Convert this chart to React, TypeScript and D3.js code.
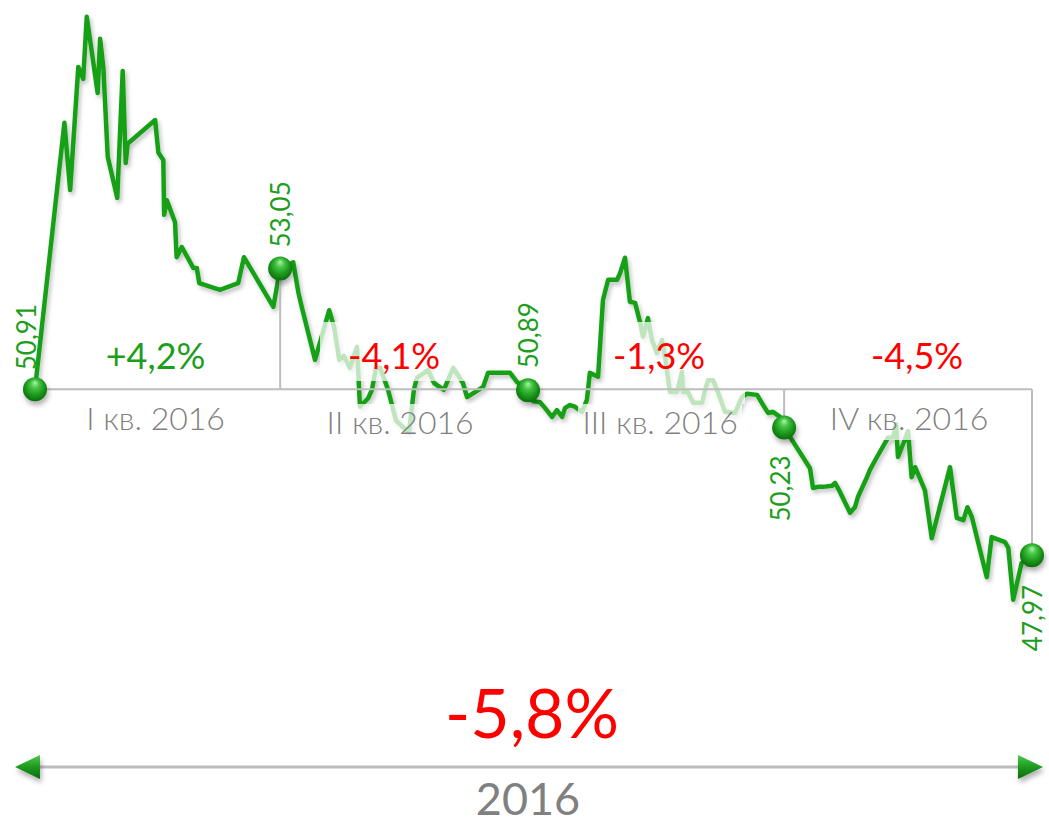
import React from "react";
import * as d3 from "d3";

// ---- data ----
const days = [
  0, 10.8, 12.9, 15.9, 17.7, 19.0, 23.0, 23.9, 25.1, 26.7, 30.2, 32.2, 33.3, 34.0, 44.1, 45.3, 47.1, 47.4, 48.4, 51.4,
  52.0, 53.9, 58.1, 59.4, 60.3, 67.9, 74.6, 76.7, 87.5, 90,
  94.8, 96.7, 97.9, 102.8, 108.0, 109.8, 111.7, 113.4, 115.6, 118.2, 119.3, 122.3, 123.7, 125.2, 126.7, 129.6, 132.5,
  135.1, 137.3, 139.1, 140.2, 144.3, 146.5, 150.1, 153.5, 157.1, 158.6, 164.5, 166.3, 174.4, 176.9, 181,
  182.8, 185.4, 187.2, 189.8, 191.6, 193.5, 194.6, 196.4, 198.2, 200.8, 202.6, 203.7, 206.7, 208.5, 210.4, 213.7, 214.8,
  216.6, 218.4, 220.3, 222.1, 223.2, 225.0, 226.5, 228.3, 230.2, 231.3, 233.1, 235.7, 237.5, 237.9, 239.7, 241.6, 244.9,
  246.0, 247.1, 248.9, 250.7, 253.3, 257.0, 259.5, 261.4, 265.1, 267.3, 269.1, 270.9, 273.5, 275,
  284.5, 285.6, 287.4, 289.3, 292.6, 293.7, 295.5, 299.2, 301.0, 302.1, 305.4, 306.5, 309.1, 313.1, 315.0, 316.1, 316.8,
  318.7, 320.5, 321.8, 323.1, 326.7, 329.2, 335.9, 338.4, 340.8, 342.3, 343.9, 349.4, 351.2, 356.1, 357.3, 359.1, 362.2, 366,
];
const prices = [
  50.91, 55.63, 54.44, 56.62, 56.41, 57.51, 56.16, 57.12, 56.6, 55.03, 54.3, 56.55, 54.92, 55.26, 55.68, 55.1, 54.97, 54.0,
  54.26, 53.87, 53.25, 53.43, 53.06, 53.06, 52.79, 52.67, 52.79, 53.25, 52.37, 53.05,
  53.16, 52.62, 52.37, 51.43, 52.31, 52.01, 51.43, 51.5, 51.29, 51.66, 50.6, 50.75, 50.9, 51.3, 51.29, 50.9, 50.36, 50.24,
  50.15, 50.9, 51.11, 51.25, 51.02, 50.9, 51.29, 51.02, 50.77, 50.95, 51.2, 51.2, 51.04, 50.89,
  50.7, 50.68, 50.58, 50.42, 50.54, 50.42, 50.58, 50.63, 50.6, 50.51, 50.72, 51.2, 51.13, 52.49, 52.85, 52.85, 52.97,
  53.24, 52.46, 52.44, 52.1, 51.84, 52.17, 51.78, 51.55, 51.78, 51.48, 50.86, 50.86, 51.22, 50.86, 50.86, 50.67, 50.67,
  50.9, 51.07, 51.07, 50.86, 50.51, 50.49, 50.77, 50.83, 50.81, 50.63, 50.49, 50.51, 50.42, 50.23,
  49.51, 49.16, 49.18, 49.18, 49.2, 49.25, 49.09, 48.72, 48.82, 49.0, 49.35, 49.48, 49.71, 50.05, 50.06, 50.29, 49.71,
  49.94, 50.17, 49.35, 49.53, 49.12, 48.27, 49.53, 48.63, 48.59, 48.82, 48.65, 47.58, 48.29, 48.2, 48.1, 47.18, 47.83, 47.97,
];
const keyDays = [0, 90, 181, 275, 366];
const keyValues = [50.91, 53.05, 50.89, 50.23, 47.97];
const keyLabels = ["50,91", "53,05", "50,89", "50,23", "47,97"];
const quarterLabels = ["I кв. 2016", "II кв. 2016", "III кв. 2016", "IV кв. 2016"];
const quarterChanges = ["+4,2%", "-4,1%", "-1,3%", "-4,5%"];
const quarterUp = [true, false, false, false];
const yearChange = "-5,8%";
const yearLabel = "2016";

const W = 1049;
const H = 824;
const GREEN = "#19a019";
const TEXT_GREEN = "#1c9e1c";
const RED = "#ff0000";
const GRAY_TEXT = "#808080";
const GRAY_LINE = "#bdbdbd";
const FONT = "Lato, 'Open Sans', sans-serif";

export default function App() {
  const x = d3.scaleLinear().domain([0, 366]).range([35, 1032]);
  const y = d3.scaleLinear().domain([47, 58]).range([609.9, -10.9]);
  const pts = days.map((d, i) => [d, prices[i]] as [number, number]);
  const line = d3
    .line<[number, number]>()
    .x((p) => x(p[0]))
    .y((p) => y(p[1]));

  const baseY = y(keyValues[0]);
  const mids = quarterLabels.map((_, i) => x((keyDays[i] + keyDays[i + 1]) / 2));
  const pctDx = [-2, -10, 3, 9];
  const qDx = [-2, -4, 4, 1];
  const qY = [430, 434, 434, 430];
  // value label offsets (rotated)
  const valOff = [
    { dx: 1, dy: -19 },
    { dx: 10, dy: -21 },
    { dx: 10, dy: -22 },
    { dx: 6, dy: 94 },
    { dx: 10, dy: 96 },
  ];

  // translucent label boxes (label backgrounds)
  const boxes = [
    { x0: 320, x1: 470, y0: 322, y1: 381 },
    { x0: 322, x1: 475, y0: 404, y1: 442 },
    { x0: 606, x1: 745, y0: 322, y1: 404 },
    { x0: 578, x1: 742, y0: 404, y1: 440 },
    { x0: 825, x1: 992, y0: 398, y1: 440 },
  ];

  return (
    <svg
      width={W}
      height={H}
      style={{ position: "absolute", left: 0, top: 0, background: "#fff" }}
      fontFamily={FONT}
    >
      <defs>
        <filter id="shadow" x="-10%" y="-10%" width="120%" height="130%">
          <feDropShadow dx="2" dy="3" stdDeviation="2.2" floodColor="#000" floodOpacity="0.25" />
        </filter>
        <filter id="ballShadow" x="-50%" y="-50%" width="200%" height="200%">
          <feDropShadow dx="1.5" dy="4" stdDeviation="2.5" floodColor="#000" floodOpacity="0.3" />
        </filter>
        <radialGradient id="ball" cx="50%" cy="45%" r="60%" fx="50%" fy="22%">
          <stop offset="0%" stopColor="#a8f5a8" />
          <stop offset="30%" stopColor="#45c445" />
          <stop offset="70%" stopColor="#169016" />
          <stop offset="100%" stopColor="#0b640b" />
        </radialGradient>
        <linearGradient id="arrowL" x1="0" y1="0" x2="0" y2="1">
          <stop offset="0%" stopColor="#4cc94c" />
          <stop offset="50%" stopColor="#1e9a1e" />
          <stop offset="100%" stopColor="#0b6a0b" />
        </linearGradient>
      </defs>

      {/* data line */}
      <path d={line(pts) || ""} fill="none" stroke={GREEN} strokeWidth={4.5} strokeLinejoin="round" filter="url(#shadow)" />

      {/* translucent label boxes */}
      {boxes.map((b, i) => (
        <rect key={i} x={b.x0} y={b.y0} width={b.x1 - b.x0} height={b.y1 - b.y0} fill="#fff" opacity={0.72} />
      ))}

      {/* baseline and connectors */}
      <line x1={x(keyDays[0])} x2={x(keyDays[4])} y1={baseY} y2={baseY} stroke={GRAY_LINE} strokeWidth={2} />
      {keyDays.slice(1).map((d, i) => (
        <line
          key={i}
          x1={x(d)}
          x2={x(d)}
          y1={baseY}
          y2={y(keyValues[i + 1])}
          stroke={GRAY_LINE}
          strokeWidth={2}
        />
      ))}

      {/* balls */}
      {keyDays.map((d, i) => (
        <circle key={i} cx={x(d)} cy={y(keyValues[i])} r={12} fill="url(#ball)" filter="url(#ballShadow)" />
      ))}

      {/* value labels */}
      {keyDays.map((d, i) => {
        const cx = x(d) + valOff[i].dx;
        const cy = y(keyValues[i]) + valOff[i].dy;
        return (
          <text
            key={i}
            transform={`translate(${cx},${cy}) rotate(-90)`}
            fontSize={26}
            fill={TEXT_GREEN}
            textAnchor="start"
          >
            {keyLabels[i]}
          </text>
        );
      })}

      {/* quarter changes */}
      {quarterChanges.map((t, i) => (
        <text
          key={i}
          x={mids[i] + pctDx[i]}
          y={369}
          fontSize={36}
          textAnchor="middle"
          fill={quarterUp[i] ? TEXT_GREEN : RED}
        >
          {t}
        </text>
      ))}

      {/* quarter labels */}
      {quarterLabels.map((t, i) => (
        <text key={i} x={mids[i] + qDx[i]} y={qY[i]} fontSize={32} fontWeight={300} textAnchor="middle" fill={GRAY_TEXT}>
          {t}
        </text>
      ))}

      {/* year summary */}
      <text x={532} y={738} fontSize={68} textAnchor="middle" fill={RED}>
        {yearChange}
      </text>
      <line x1={30} x2={1028} y1={767} y2={767} stroke={GRAY_LINE} strokeWidth={3} />
      <g filter="url(#ballShadow)">
        <polygon points="15,767 40,755 40,779" fill="url(#arrowL)" />
        <polygon points="1043,767 1018,755 1018,779" fill="url(#arrowL)" />
      </g>
      <text x={528} y={815} fontSize={45} textAnchor="middle" fill={GRAY_TEXT}>
        {yearLabel}
      </text>
    </svg>
  );
}
